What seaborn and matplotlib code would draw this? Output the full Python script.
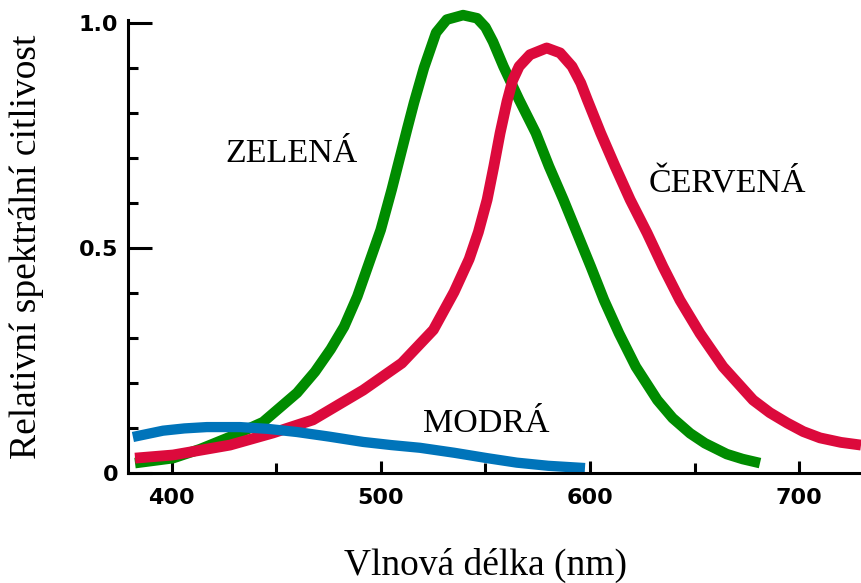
import matplotlib
matplotlib.use('Agg')
import matplotlib.pyplot as plt
import seaborn as sns
from matplotlib.ticker import FixedLocator

# values (wavelength nm, relative sensitivity)
green_nm = [382.4, 400.6, 413.5, 427.8, 443.6, 459.9, 468.5, 476.0, 482.4,
            488.7, 494.3, 499.9, 505.2, 512.6, 515.8, 520.6, 526.4, 531.5,
            539.3, 546.0, 550.0, 553.6, 558.6, 566.1, 574.1, 580.4, 587.3,
            593.8, 600.4, 606.7, 613.9, 621.9, 632.2, 639.5, 647.9, 655.0,
            665.4, 673.0, 681.3]
green_val = [0.022, 0.033, 0.053, 0.080, 0.113, 0.178, 0.225, 0.275, 0.325,
             0.392, 0.466, 0.540, 0.630, 0.765, 0.822, 0.900, 0.978, 1.007,
             1.017, 1.010, 0.990, 0.958, 0.903, 0.829, 0.755, 0.681, 0.607,
             0.533, 0.458, 0.384, 0.310, 0.236, 0.162, 0.122, 0.088, 0.066,
             0.042, 0.031, 0.022]

red_nm = [382.4, 400.6, 427.8, 448.4, 467.5, 491.5, 510.0, 525.1, 535.0,
          542.2, 546.6, 550.8, 554.0, 557.0, 560.3, 563.0, 566.1, 571.3,
          579.3, 585.7, 591.4, 595.6, 598.7, 605.1, 612.0, 619.2, 627.3,
          634.9, 643.0, 652.6, 663.6, 678.0, 686.0, 694.3, 702.0, 710.0,
          720.0, 729.6]
red_val = [0.033, 0.040, 0.062, 0.089, 0.118, 0.184, 0.244, 0.318, 0.402,
           0.475, 0.535, 0.607, 0.681, 0.755, 0.825, 0.872, 0.903, 0.929,
           0.944, 0.933, 0.903, 0.866, 0.829, 0.755, 0.681, 0.607, 0.533,
           0.458, 0.384, 0.310, 0.236, 0.162, 0.134, 0.111, 0.092, 0.078,
           0.068, 0.062]

blue_nm = [381.4, 395.8, 406.0, 416.8, 432.6, 446.0, 459.9, 475.0, 491.5,
           505.0, 518.7, 535.0, 550.8, 565.0, 580.0, 597.6]
blue_val = [0.080, 0.094, 0.099, 0.102, 0.102, 0.098, 0.091, 0.081, 0.069,
            0.062, 0.056, 0.045, 0.033, 0.023, 0.016, 0.011]

x_ticks = [400, 500, 600, 700]
x_minor = [450, 550, 650]
y_ticks = [0, 0.5, 1.0]
y_ticklabels = ['0', '0.5', '1.0']
y_minor = [0.1, 0.2, 0.3, 0.4, 0.6, 0.7, 0.8, 0.9]

labels = {'ZELENÁ': (425.7, 0.691), 'ČERVENÁ': (627.8, 0.624),
          'MODRÁ': (520.3, 0.092)}

sns.set_style('ticks')
plt.rcParams['text.color'] = 'black'
plt.rcParams['axes.labelcolor'] = 'black'
plt.rcParams['xtick.color'] = 'black'
plt.rcParams['ytick.color'] = 'black'

fig = plt.figure(figsize=(8.61, 5.83), dpi=100)
ax = fig.add_axes([128 / 861, 110 / 583, 733 / 861, 452.5 / 583])

line_kw = dict(solid_capstyle='butt', solid_joinstyle='round',
               clip_on=False, sort=False)
sns.lineplot(x=green_nm, y=green_val, ax=ax, color='#008C00',
             linewidth=7.6, **line_kw)
sns.lineplot(x=red_nm, y=red_val, ax=ax, color='#DC0A3C',
             linewidth=7.8, **line_kw)
sns.lineplot(x=blue_nm, y=blue_val, ax=ax, color='#0074BA',
             linewidth=7.4, **line_kw)

ax.set_xlim(379.05, 729.6)
ax.set_ylim(0, 1.005)

for side in ['top', 'right']:
    ax.spines[side].set_visible(False)
for side in ['left', 'bottom']:
    ax.spines[side].set_linewidth(2.2)
    ax.spines[side].set_color('black')

ax.xaxis.set_major_locator(FixedLocator(x_ticks))
ax.xaxis.set_minor_locator(FixedLocator(x_minor))
ax.yaxis.set_major_locator(FixedLocator(y_ticks))
ax.yaxis.set_minor_locator(FixedLocator(y_minor))
ax.set_xticklabels([str(v) for v in x_ticks])
ax.set_yticklabels(y_ticklabels)

ax.tick_params(axis='x', which='major', direction='in', length=9, width=2.2,
               pad=11, labelsize=16)
ax.tick_params(axis='x', which='minor', direction='in', length=7, width=2.2)
ax.tick_params(axis='y', which='major', direction='in', length=17, width=2.2,
               pad=7, labelsize=16)
ax.tick_params(axis='y', which='minor', direction='in', length=7.5, width=2.2)
plt.setp(ax.get_xticklabels() + ax.get_yticklabels(),
         fontweight='bold', family='DejaVu Sans', color='black')

ax.set_xlabel('Vlnová délka (nm)', family='Liberation Serif', fontsize=27,
              va='center', color='black')
ax.set_ylabel('Relativní spektrální citlivost', family='Liberation Serif',
              fontsize=27, va='center', color='black')
ax.xaxis.set_label_coords(0.488, -0.2033)
ax.yaxis.set_label_coords(-0.1385, 0.5)

for txt, (x, y) in labels.items():
    ax.text(x, y, txt, family='Liberation Serif', fontsize=24.5,
            ha='left', va='baseline', color='black')

fig.savefig('out.png', dpi=100)
plt.close()
